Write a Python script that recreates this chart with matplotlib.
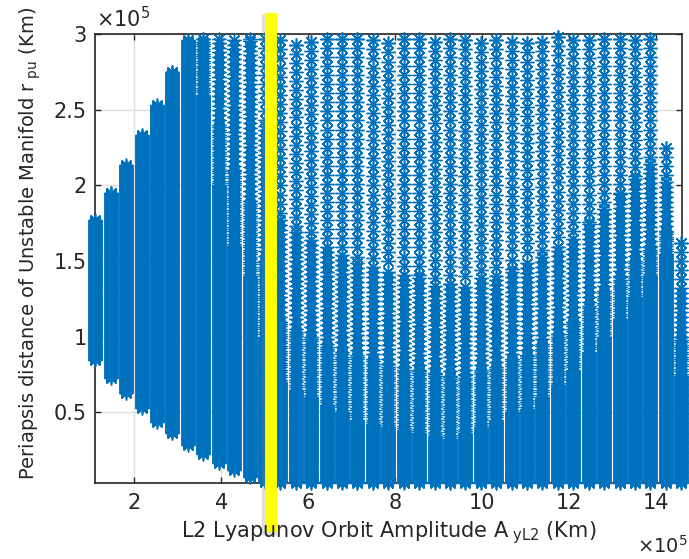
import numpy as np
import matplotlib
matplotlib.use("Agg")
import matplotlib.pyplot as plt

plt.rcParams["font.family"] = ["DejaVu Sans"]
plt.rcParams["mathtext.fontset"] = "dejavusans"

# orbit amplitude of each family member (x 1e5 km)
col_x = [1.10, 1.455, 1.81, 2.165, 2.52, 2.875, 3.23, 3.585, 3.94, 4.295,
         4.65, 5.005, 5.36, 5.715, 6.07, 6.425, 6.78, 7.135, 7.49, 7.845,
         8.20, 8.555, 8.91, 9.265, 9.62, 9.975, 10.33, 10.685, 11.04, 11.395,
         11.75, 12.105, 12.46, 12.815, 13.17, 13.525, 13.88, 14.235, 14.59]
# lowest / highest periapsis read per column (x 1e5 km)
col_bottom = [0.846, 0.729, 0.63, 0.53, 0.438, 0.361, 0.284, 0.224, 0.163, 0.118,
              0.07, 0.04, 0.03, 0.03, 0.03, 0.03, 0.03, 0.03, 0.03, 0.03,
              0.03, 0.03, 0.03, 0.03, 0.03, 0.03, 0.03, 0.03, 0.03, 0.03,
              0.03, 0.03, 0.03, 0.03, 0.03, 0.03, 0.03, 0.03, 0.03]
col_top = [1.77, 1.95, 2.135, 2.333, 2.53, 2.75, 2.96, 2.97, 2.97, 2.96,
           2.97, 2.97, 2.96, 2.93, 2.95, 2.97, 2.97, 2.97, 2.96, 2.94,
           2.97, 2.97, 2.95, 2.97, 2.96, 2.94, 2.96, 2.95, 2.94, 2.95,
           2.98, 2.96, 2.96, 2.97, 2.97, 2.96, 2.97, 2.25, 1.62]
# where the samples stop being a solid band / dense / medium density
col_solid = [1.77, 1.95, 2.135, 2.333, 2.53, 2.75, 2.96, 2.6, 2.0, 1.6,
             1.4, 1.0, 0.7, 0.65, 0.6, 0.55, 0.5, 0.45, 0.42, 0.4,
             0.38, 0.36, 0.34, 0.32, 0.36, 0.4, 0.45, 0.5, 0.52, 0.6,
             0.68, 0.78, 0.9, 1.0, 1.12, 1.26, 1.4, 1.55, 0.74]
col_dense = [1.77, 1.95, 2.135, 2.333, 2.53, 2.75, 2.96, 2.97, 2.4, 2.1,
             1.9, 1.5, 1.1, 1.05, 1.0, 0.95, 0.9, 0.88, 0.85, 0.82,
             0.8, 0.78, 0.76, 0.74, 0.75, 0.78, 0.8, 0.85, 0.88, 0.95,
             1.02, 1.1, 1.2, 1.3, 1.4, 1.5, 1.6, 1.7, 1.0]
col_mid = [1.77, 1.95, 2.135, 2.333, 2.53, 2.75, 2.96, 2.97, 2.97, 2.96,
           2.97, 2.4, 1.8, 1.7, 1.65, 1.6, 1.55, 1.5, 1.45, 1.45,
           1.4, 1.4, 1.35, 1.35, 1.35, 1.4, 1.4, 1.45, 1.5, 1.55,
           1.6, 1.65, 1.75, 1.85, 1.95, 2.05, 2.15, 2.05, 1.35]

marker_col = "#0072BD"
text_col = "#262626"

xs, ys = [], []
for x, b, t, d, e, m in zip(col_x, col_bottom, col_top, col_solid, col_dense, col_mid):
    y = np.concatenate([np.arange(b, d, 0.006),
                        np.arange(d, e, 0.016),
                        np.arange(e, m, 0.032),
                        t - np.arange(0, max(t - m, 0), 0.06),
                        [t]])
    xs.append(np.full(len(y), x)); ys.append(y)
xs = np.concatenate(xs); ys = np.concatenate(ys)

fig = plt.figure(figsize=(6.89, 5.59), dpi=100)
W, H = 689, 559
ax = fig.add_axes([95.3 / W, 1 - 483.3 / H, (681.7 - 95.3) / W, (483.3 - 34.3) / H])

ax.plot(xs, ys, linestyle="none", marker=(8, 2, 0), ms=10, mew=1.0,
        color=marker_col, clip_on=False, zorder=3)

# highlighted amplitude
ax.plot([5.11, 5.11], [3.135, -0.31], color="0.5", alpha=0.25, lw=11,
        solid_capstyle="butt", clip_on=False, zorder=4)
ax.plot([5.145, 5.145], [3.143, -0.29], color="#FFFF00", lw=8.6,
        solid_capstyle="butt", clip_on=False, zorder=5)

ax.set_xlim(1.1, 14.6)
ax.set_ylim(0.03, 3.0)
ax.set_xticks([2, 4, 6, 8, 10, 12, 14])
ax.set_xticklabels(["2", "4", "6", "8", "10", "12", "14"])
ax.set_yticks([0.5, 1, 1.5, 2, 2.5, 3])
ax.set_yticklabels(["0.5", "1", "1.5", "2", "2.5", "3"])
ax.grid(True, color="#DFDFDF", lw=1.0)
ax.set_axisbelow(True)
ax.tick_params(direction="in", length=4.5, width=1.0, colors=text_col,
               labelsize=15, top=True, right=True)
ax.tick_params(axis="x", pad=7)
ax.tick_params(axis="y", pad=6)
for s in ax.spines.values():
    s.set_color(text_col); s.set_linewidth(1.2)

fig.text(388.5 / W, 1 - 537 / H,
         "L2 Lyapunov Orbit Amplitude A$_{\\ \\mathrm{yL2}}$ (Km)",
         ha="center", va="baseline", fontsize=15, color=text_col)
fig.text(30 / W, 1 - 243 / H,
         "Periapsis distance of Unstable Manifold r$_{\\ \\mathrm{pu}}$ (Km)",
         ha="center", va="center", rotation=90, rotation_mode="anchor",
         fontsize=14, color=text_col)
fig.text(96 / W, 1 - 27 / H, "×10$^{\\mathrm{5}}$", ha="left", va="baseline",
         fontsize=15, color=text_col)
fig.text(637 / W, 1 - 553 / H, "×10$^{\\mathrm{5}}$", ha="left", va="baseline",
         fontsize=14, color=text_col)

fig.savefig("out.png", dpi=100)
